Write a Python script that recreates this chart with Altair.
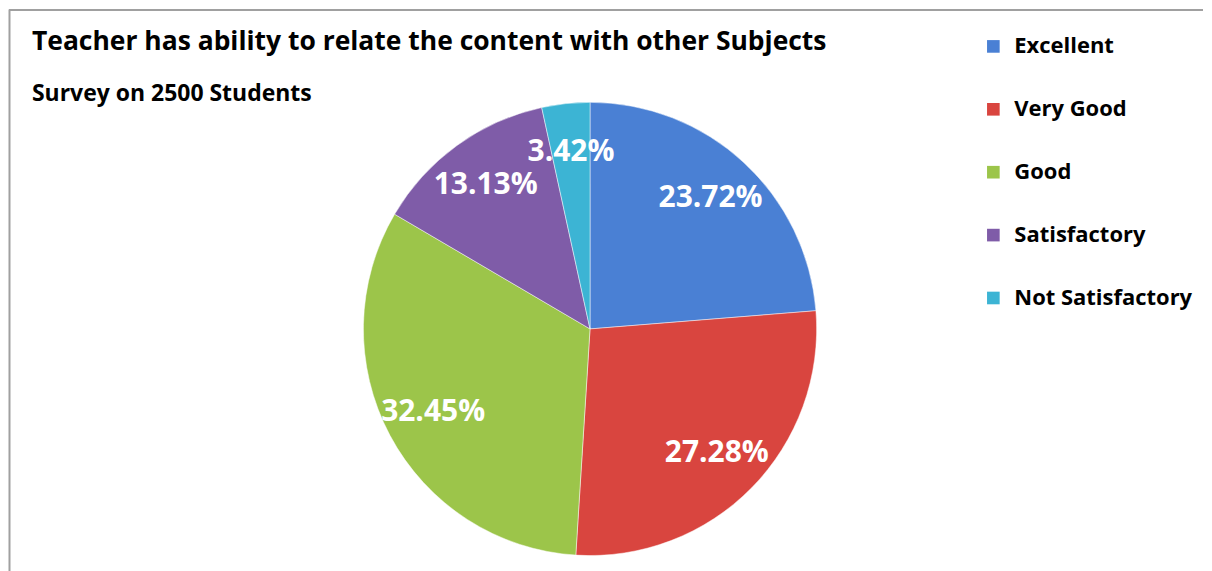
import altair as alt
import pandas as pd

categories = ["Excellent", "Very Good", "Good", "Satisfactory", "Not Satisfactory"]
values = [23.72, 27.28, 32.45, 13.13, 3.42]
labels = ["23.72%", "27.28%", "32.45%", "13.13%", "3.42%"]
colors = ["#4a80d4", "#d9453f", "#9cc54a", "#7f5ca8", "#3cb4d4"]

title_text = "Teacher has ability to relate the content with other Subjects"
subtitle_text = "Survey on 2500 Students"

df = pd.DataFrame({
    "category": categories,
    "value": values,
    "label": labels,
    "order": list(range(len(categories))),
})

W, H = 1196, 555
CX, CY, R = 582, 320, 227
FONT = "Open Sans"

base = alt.Chart(df).encode(
    theta=alt.Theta("value:Q", stack=True),
    order=alt.Order("order:Q", sort="ascending"),
)

pie = base.mark_arc(radius=R, stroke="#ffffff", strokeWidth=0.8, strokeOpacity=0.6).encode(
    x=alt.value(CX),
    y=alt.value(CY),
    color=alt.Color(
        "category:N",
        scale=alt.Scale(domain=categories, range=colors),
        sort=categories,
        legend=alt.Legend(
            title=None,
            orient="none",
            legendX=975,
            legendY=26,
            symbolType="square",
            symbolSize=160,
            symbolStrokeWidth=0,
            labelFont=FONT,
            labelFontSize=22,
            labelFontWeight="bold",
            labelColor="#000000",
            labelOffset=10,
            rowPadding=41,
            labelLimit=300,
        ),
    ),
)

pct = base.mark_text(
    radius=178, font=FONT, fontSize=30, fontWeight="bold", color="#ffffff"
).encode(
    x=alt.value(CX),
    y=alt.value(CY),
    text="label:N",
)

title = alt.Chart(pd.DataFrame({"t": [title_text]})).mark_text(
    align="left", baseline="alphabetic", font=FONT, fontSize=26.5, fontWeight="bold", color="#000000"
).encode(x=alt.value(23), y=alt.value(41), text="t:N")

subtitle = alt.Chart(pd.DataFrame({"t": [subtitle_text]})).mark_text(
    align="left", baseline="alphabetic", font=FONT, fontSize=23, fontWeight="bold", color="#000000"
).encode(x=alt.value(23), y=alt.value(92), text="t:N")

border_left = alt.Chart(pd.DataFrame({"a": [0]})).mark_rule(color="#a0a0a0", strokeWidth=2).encode(
    x=alt.value(0.5), y=alt.value(0), y2=alt.value(H + 8)
)
border_top = alt.Chart(pd.DataFrame({"a": [0]})).mark_rule(color="#a0a0a0", strokeWidth=2).encode(
    y=alt.value(0.5), x=alt.value(0), x2=alt.value(W)
)

chart = alt.layer(pie, pct, title, subtitle, border_left, border_top).properties(
    width=W, height=H, padding=0, background="#ffffff"
).configure_view(stroke=None)

chart.save("out.html", embed_options={"renderer": "svg", "actions": False})
